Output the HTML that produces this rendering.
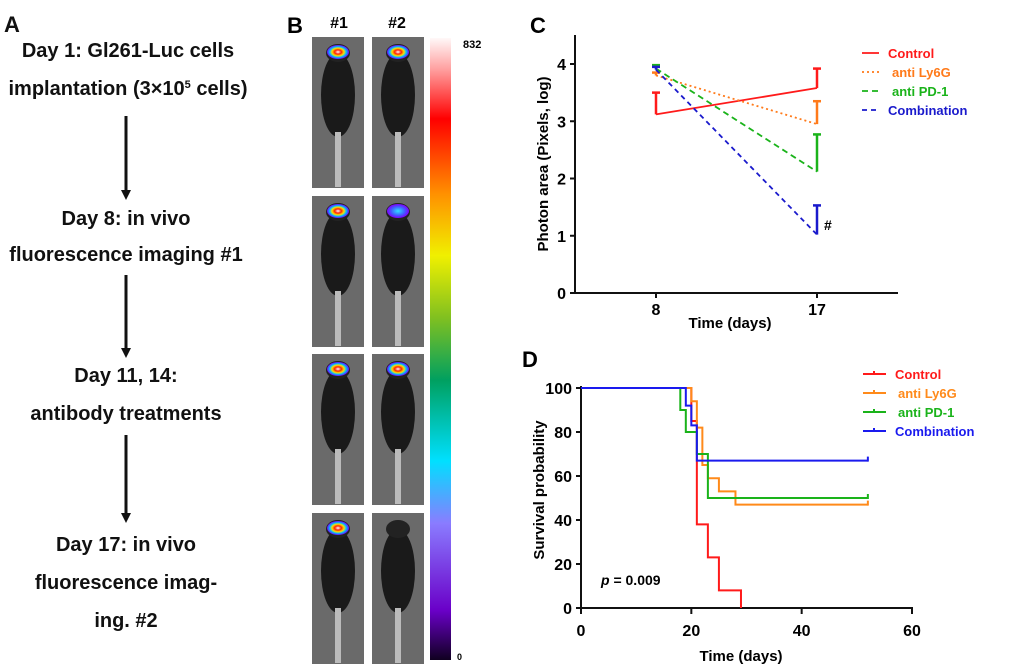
<!DOCTYPE html>
<html><head><meta charset="utf-8"><style>
body{margin:0;background:#fff;}
svg{display:block;font-family:"Liberation Sans",Arial,sans-serif;}
</style></head><body>
<svg id="fig" width="1020" height="671" viewBox="0 0 1020 671">
<defs>
<linearGradient id="cbar" x1="0" y1="1" x2="0" y2="0">
<stop offset="0" stop-color="#100020"/><stop offset="0.08" stop-color="#6a00c8"/><stop offset="0.22" stop-color="#8a7cff"/>
<stop offset="0.32" stop-color="#00e0ff"/><stop offset="0.45" stop-color="#00a060"/><stop offset="0.55" stop-color="#80c020"/>
<stop offset="0.65" stop-color="#f0f000"/><stop offset="0.75" stop-color="#ff9000"/><stop offset="0.87" stop-color="#ff0000"/>
<stop offset="0.95" stop-color="#ffa0a0"/><stop offset="1" stop-color="#fff8f8"/>
</linearGradient>
<radialGradient id="blob"><stop offset="0" stop-color="#fff"/><stop offset="0.3" stop-color="#ff2000"/><stop offset="0.55" stop-color="#ffe000"/><stop offset="0.75" stop-color="#00c0ff"/><stop offset="1" stop-color="#7000ff"/></radialGradient>
<radialGradient id="blob2"><stop offset="0" stop-color="#30e0ff"/><stop offset="0.6" stop-color="#4060ff"/><stop offset="1" stop-color="#8000ff"/></radialGradient>
</defs>

<!-- Panel A -->
<g font-weight="bold" font-size="20" text-anchor="middle" fill="#111">
<text x="4" y="32" font-size="22" text-anchor="start">A</text>
<text x="128" y="57">Day 1: Gl261-Luc cells</text>
<text x="128" y="95">implantation (3×10<tspan font-size="11" dy="-7">5</tspan><tspan dy="7"> cells)</tspan></text>
<text x="126" y="225">Day 8: in vivo</text>
<text x="126" y="261">fluorescence imaging #1</text>
<text x="126" y="382">Day 11, 14:</text>
<text x="126" y="420">antibody treatments</text>
<text x="126" y="551">Day 17: in vivo</text>
<text x="126" y="589">fluorescence imag-</text>
<text x="126" y="627">ing. #2</text>
<g stroke="#111" stroke-width="3" fill="#111">
<line x1="126" y1="116" x2="126" y2="192"/><polygon points="121,190 131,190 126,200" stroke="none"/>
<line x1="126" y1="275" x2="126" y2="350"/><polygon points="121,348 131,348 126,358" stroke="none"/>
<line x1="126" y1="435" x2="126" y2="515"/><polygon points="121,513 131,513 126,523" stroke="none"/>
</g>
</g>

<!-- Panel B -->
<g>
<text x="287" y="33" font-size="22" font-weight="bold">B</text>
<text x="339" y="28" font-size="16" font-weight="bold" text-anchor="middle">#1</text>
<text x="397" y="28" font-size="16" font-weight="bold" text-anchor="middle">#2</text>
<g id="mice"></g>
<rect x="430" y="38" width="21" height="622" fill="url(#cbar)"/>
<text x="463" y="48" font-size="11" font-weight="bold">832</text>
<text x="457" y="660" font-size="9" font-weight="bold">0</text>
</g>

<!-- Panel C -->
<g id="panelC">
<text x="530" y="33" font-size="22" font-weight="bold">C</text>
</g>
<!-- Panel D -->
<g id="panelD">
<text x="522" y="367" font-size="22" font-weight="bold">D</text>
</g>
</svg>
<script>
const NS="http://www.w3.org/2000/svg";
function mk(tag,attrs,parent,txt){const e=document.createElementNS(NS,tag);for(const k in attrs)e.setAttribute(k,attrs[k]);if(txt!==undefined)e.textContent=txt;parent.appendChild(e);return e;}

// ---- Panel B mice ----
const mice=document.getElementById('mice');
const rowsY=[37,196,354,513];
const colsX=[312,372];
const blobKind=[[1,1],[1,2],[1,1],[1,0]];
rowsY.forEach((y,r)=>colsX.forEach((x,c)=>{
  const g=mk('g',{},mice);
  
  
  mk('rect',{x:x,y:y,width:52,height:151,fill:'#6a6a6a'},g);
  mk('ellipse',{cx:x+26,cy:y+58,rx:17,ry:42,fill:'#1a1a1a'},g);
  mk('ellipse',{cx:x+26,cy:y+16,rx:12,ry:9,fill:'#222'},g);
  mk('rect',{x:x+23,y:y+95,width:6,height:55,fill:'#bbb'},g);
  const k=blobKind[r][c];
  if(k>0) mk('ellipse',{cx:x+26,cy:y+15,rx:11,ry:7,fill:k===1?'url(#blob)':'url(#blob2)'},g);
}));

// ---- Panel C data ----
const cDays=[8,17];
const cNames=['Control','anti Ly6G','anti PD-1','Combination'];
const cColors=['#ff1a1a','#ff7a1a','#1ab31a','#1a1acc'];
const cDash=['none','2,3','6,4','5,4'];
const cMeans=[[3.12,3.58],[3.8,2.95],[3.92,2.12],[3.9,1.02]];
const cErr=[[0.38,0.34],[0.05,0.4],[0.06,0.65],[0.05,0.51]];
const cTicks=[0,1,2,3,4];
(function(){
  const P=document.getElementById('panelC');
  const X=d=>656+(d-8)*(161/9), Y=v=>293-v*57.25;
  const ax=mk('g',{},P);  
  mk('line',{x1:575,y1:35,x2:575,y2:294,stroke:'#111','stroke-width':2},ax);
  mk('line',{x1:574,y1:293,x2:898,y2:293,stroke:'#111','stroke-width':2},ax);
  cTicks.forEach(t=>{mk('line',{x1:570,y1:Y(t),x2:575,y2:Y(t),stroke:'#111','stroke-width':2},ax);
    const tx=mk('text',{x:566,y:Y(t)+6,'font-size':16,'font-weight':'bold','text-anchor':'end'},ax,String(t));
     });
  cDays.forEach(d=>{mk('line',{x1:X(d),y1:293,x2:X(d),y2:298,stroke:'#111','stroke-width':2},ax);
    const tx=mk('text',{x:X(d),y:315,'font-size':16,'font-weight':'bold','text-anchor':'middle'},ax,String(d));
     });
  const xt=mk('text',{x:730,y:328,'font-size':15,'font-weight':'bold','text-anchor':'middle'},P,'Time (days)');
   
  const yt=mk('text',{x:0,y:0,'font-size':15,'font-weight':'bold','text-anchor':'middle',transform:'translate(548,164) rotate(-90)'},P,'Photon area (Pixels, log)');
   
  cNames.forEach((n,i)=>{
    const g=mk('g',{},P);  
    mk('line',{x1:X(cDays[0]),y1:Y(cMeans[i][0]),x2:X(cDays[1]),y2:Y(cMeans[i][1]),stroke:cColors[i],'stroke-width':1.8,'stroke-dasharray':cDash[i]},g);
    cDays.forEach((d,j)=>{const top=Y(cMeans[i][j]+cErr[i][j]);
      mk('line',{x1:X(d),y1:Y(cMeans[i][j]),x2:X(d),y2:top,stroke:cColors[i],'stroke-width':2.5},g);
      mk('line',{x1:X(d)-4,y1:top,x2:X(d)+4,y2:top,stroke:cColors[i],'stroke-width':2.5},g);});
    const ly=53+i*19;
    mk('line',{x1:862,y1:ly,x2:879,y2:ly,stroke:cColors[i],'stroke-width':1.8,'stroke-dasharray':cDash[i]},g);
    const lt=mk('text',{x:i===0||i===3?888:892,y:ly+5,'font-size':13,'font-weight':'bold',fill:cColors[i]},g,n);
     
  });
  const h=mk('text',{x:824,y:230,'font-size':14,'font-weight':'bold'},P,'#');
   
})();

// ---- Panel D data ----
const dNames=['Control','anti Ly6G','anti PD-1','Combination'];
const dColors=['#ff1a1a','#ff8a1a','#1ab31a','#1a1aee'];
const dTimes=[[0,20,21,23,25,29],[0,20,21,22,23,25,28,52],[0,18,19,21,23,52],[0,19,20,21,52]];
const dSurv=[[100,85,38,23,8,0],[100,94,82,65,59,53,47,47],[100,90,80,70,50,50],[100,92,83,67,67]];
const dXTicks=[0,20,40,60];
const dYTicks=[0,20,40,60,80,100];
(function(){
  const P=document.getElementById('panelD');
  const X=t=>581+t*(331/60), Y=v=>608-v*2.2;
  const ax=mk('g',{},P);  
  dNames.forEach((n,i)=>{
    const g=mk('g',{},P);  
    let p='M'+X(dTimes[i][0])+','+Y(dSurv[i][0]);
    for(let k=1;k<dTimes[i].length;k++){p+=' H'+X(dTimes[i][k])+' V'+Y(dSurv[i][k]);}
    mk('path',{d:p,fill:'none',stroke:dColors[i],'stroke-width':2},g);
    const last=dTimes[i].length-1;
    if(dSurv[i][last]>0) mk('line',{x1:X(dTimes[i][last]),y1:Y(dSurv[i][last])-4,x2:X(dTimes[i][last]),y2:Y(dSurv[i][last])+1,stroke:dColors[i],'stroke-width':2},g);
    const ly=374+i*19;
    mk('line',{x1:863,y1:ly,x2:886,y2:ly,stroke:dColors[i],'stroke-width':2},g);
    mk('line',{x1:874,y1:ly-3,x2:874,y2:ly,stroke:dColors[i],'stroke-width':2},g);
    const lt=mk('text',{x:i===0||i===3?895:898,y:ly+5,'font-size':13,'font-weight':'bold',fill:dColors[i]},g,n);
     
  });
  mk('line',{x1:581,y1:386,x2:581,y2:609,stroke:'#111','stroke-width':2},ax);
  mk('line',{x1:580,y1:608,x2:913,y2:608,stroke:'#111','stroke-width':2},ax);
  dYTicks.forEach(t=>{mk('line',{x1:576,y1:Y(t),x2:581,y2:Y(t),stroke:'#111','stroke-width':2},ax);
    const tx=mk('text',{x:572,y:Y(t)+6,'font-size':16,'font-weight':'bold','text-anchor':'end'},ax,String(t));
     });
  dXTicks.forEach(t=>{mk('line',{x1:X(t),y1:608,x2:X(t),y2:614,stroke:'#111','stroke-width':2},ax);
    const tx=mk('text',{x:X(t),y:636,'font-size':16,'font-weight':'bold','text-anchor':'middle'},ax,String(t));
     });
  const xt=mk('text',{x:741,y:661,'font-size':15,'font-weight':'bold','text-anchor':'middle'},P,'Time (days)');
   
  const yt=mk('text',{x:0,y:0,'font-size':15,'font-weight':'bold','text-anchor':'middle',transform:'translate(544,490) rotate(-90)'},P,'Survival probability');
   
  const pv=mk('text',{x:601,y:585,'font-size':14,'font-weight':'bold'},P);
   
  mk('tspan',{'font-style':'italic'},pv,'p');
  mk('tspan',{},pv,' = 0.009');
})();
</script>
</body></html>
